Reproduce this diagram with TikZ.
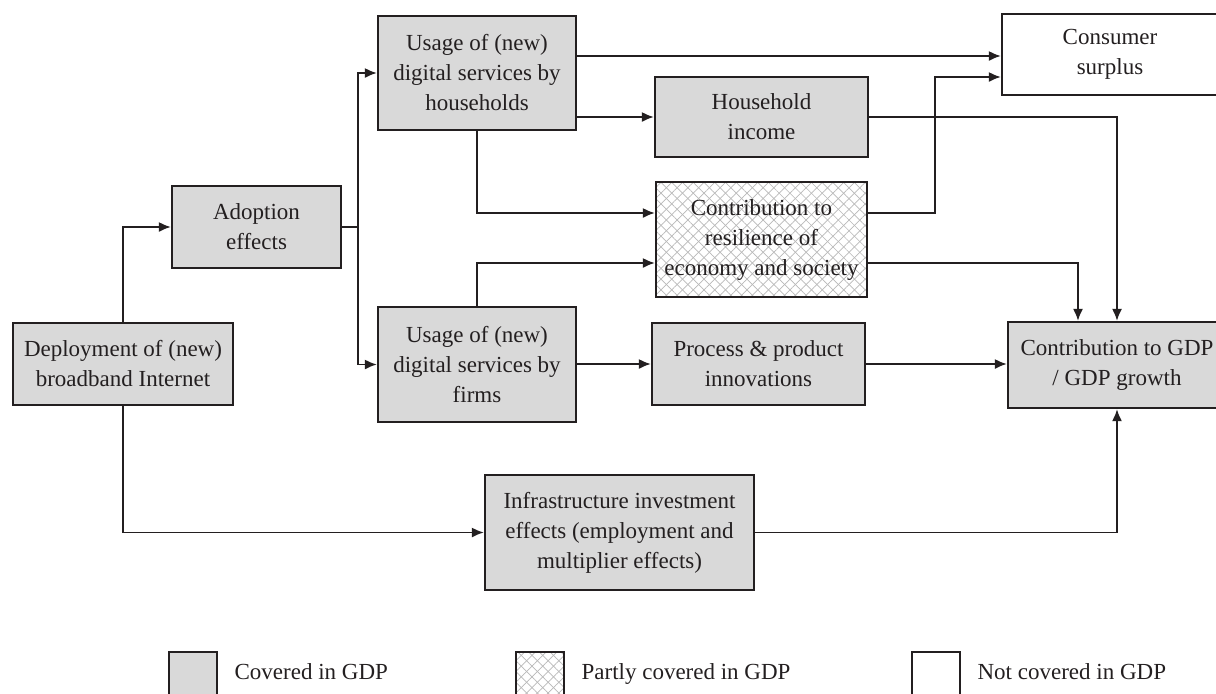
\documentclass[tikz,border=0pt]{standalone}
\usepackage{fontspec}
\setmainfont{Liberation Serif}
\usepackage{tikz}
\usetikzlibrary{arrows.meta, patterns.meta}
\definecolor{cGray}{RGB}{217,217,217}
\definecolor{cText}{RGB}{35,31,32}
\definecolor{cHatch}{RGB}{185,185,185}
\tikzset{
	box/.style={draw=cText, line width=1.1pt, align=center, inner sep=1pt, text=cText},
	covered/.style={box, fill=cGray},
	notcov/.style={box, fill=white},
	partly/.style={box,
		preaction={fill=white},
		preaction={pattern={Lines[angle=45,distance=3.8pt,line width=0.35pt]}, pattern color=cHatch},
		preaction={pattern={Lines[angle=-45,distance=3.8pt,line width=0.35pt]}, pattern color=cHatch}},
	flow/.style={draw=cText, line width=0.9pt, -{Latex[length=6pt,width=5pt]}},
	link/.style={draw=cText, line width=0.9pt}
}

\begin{document}
\begin{tikzpicture}[x=0.5pt, y=-0.5pt, font=\fontsize{11.5}{15}\selectfont]
				\useasboundingbox (0,0) rectangle (1216,693);
				% boxes
				\node[covered, minimum width=110pt, minimum height=41pt] (dep) at (123,364) {Deployment of (new)\\broadband Internet};
				\node[covered, minimum width=84.5pt, minimum height=41pt] (adopt) at (256.5,227) {Adoption\\effects};
				\node[covered, minimum width=99pt, minimum height=57pt] (hh) at (477,73) {Usage of (new)\\digital services by\\households};
				\node[covered, minimum width=99pt, minimum height=57.5pt] (firm) at (477,364.5) {Usage of (new)\\digital services by\\firms};
				\node[covered, minimum width=106.5pt, minimum height=40pt] (hinc) at (761.5,117) {Household\\income};
				\node[partly, minimum width=105.5pt, minimum height=57.5pt] (res) at (761.5,239.5) {Contribution to\\resilience of\\economy and society};
				\node[covered, minimum width=106.5pt, minimum height=41pt] (proc) at (758.5,364) {Process \& product\\innovations};
				\node[notcov, minimum width=108pt, minimum height=40.5pt] (cs) at (1110,54.5) {Consumer\\surplus};
				\node[covered, minimum width=109pt, minimum height=43pt] (gdp) at (1117,365) {Contribution to GDP\\/ GDP growth};
				\node[covered, minimum width=134.5pt, minimum height=57.5pt] (infra) at (619.5,532.5) {Infrastructure investment\\effects (employment and\\multiplier effects)};
				% connectors
				\coordinate (split) at (358,227);
				\draw[flow] (dep.north) |- (adopt.west);
				\draw[flow] (dep.south) |- (infra.west);
				\draw[link] (adopt.east) -- (split);
				\draw[flow] (split) |- (hh.west);
				\draw[flow] (split) |- (firm.west);
				\draw[flow] (hh.east |- 0,56) -- (cs.west |- 0,56);
				\draw[flow] (hh.east |- hinc.west) -- (hinc.west);
				\draw[flow] (hh.south) |- (res.west |- 0,213);
				\draw[flow] (firm.north) |- (res.west |- 0,263);
				\draw[flow] (firm.east |- proc.west) -- (proc.west);
				\draw[flow] (proc.east) -- (gdp.west |- proc.east);
				\draw[flow] (hinc.east) -| (gdp.north);
				\draw[flow] (res.east |- 0,213) -- (935,213) |- (cs.west |- 0,77);
				\draw[flow] (res.east |- 0,263) -| (gdp.north -| 1078,0);
				\draw[flow] (infra.east) -| (gdp.south);
				% legend
				\foreach \x/\s/\t in {168/covered/Covered in GDP, 515/partly/Partly covered in GDP, 911/notcov/Not covered in GDP}
					\node[\s, minimum width=24pt, minimum height=24pt, anchor=north west] (key\s) at (\x,651) {}
						node[anchor=base west, text=cText, inner sep=0pt] at ([xshift=8pt]key\s.east |- 0,679) {\t};
			\end{tikzpicture}
\end{document}
